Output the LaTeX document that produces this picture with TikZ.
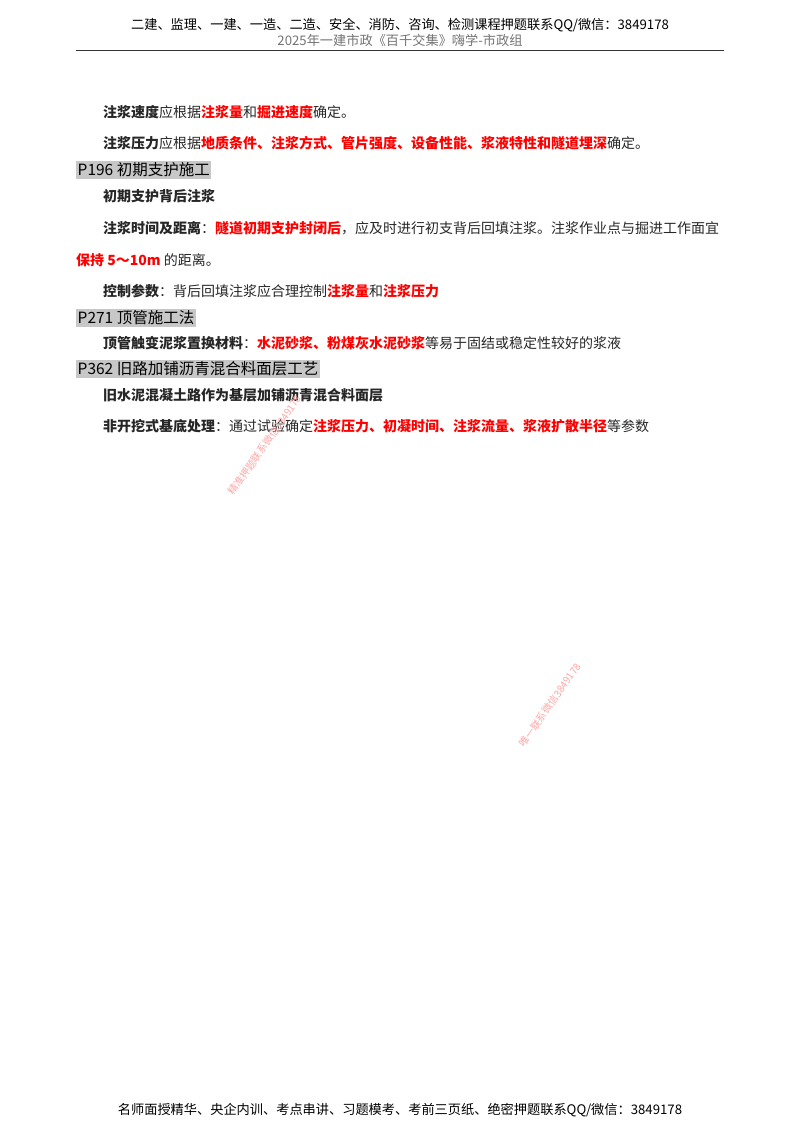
\documentclass[tikz,border=0pt]{standalone}
\usepackage{fontspec}
\setmainfont{Noto Sans CJK SC}
\newfontfamily\cjk{Noto Sans CJK SC}
\newcommand{\hl}[1]{\textcolor{red}{\textbf{#1}}}
\newcommand{\kw}[1]{\textbf{#1}}
\begin{document}
\begin{tikzpicture}[x=1pt,y=-1pt,
  body/.style={anchor=west,inner sep=0pt,font=\fontsize{14}{14}\selectfont,text=black!85},
  head/.style={anchor=west,inner sep=1.5pt,fill=black!22,font=\fontsize{15.5}{16}\selectfont},
  top/.style={inner sep=0pt,font=\fontsize{13.2}{13}\selectfont},
  wmark/.style={inner sep=0pt,text=red!35,font=\fontsize{10}{10}\selectfont,rotate=55}]
  \useasboundingbox (0,0) rectangle (800,1132);

  %% -- header
  \node (h1) [top] at (400,25) {二建、监理、一建、一造、二造、安全、消防、咨询、检测课程押题联系QQ/微信：3849178};
  \node (h2) [top,text=black!55] at (400,40) {2025年一建市政《百千交集》嗨学-市政组};
  \coordinate (r0) at (76,51);
  \coordinate (r1) at (724,51);
  \draw[line width=1pt,black!80] (r0) -- (r1);

  %% -- body
  \node (l1) [body] at (103,112) {\kw{注浆速度}应根据\hl{注浆量}和\hl{掘进速度}确定。};
  \node (l2) [body] at (103,143) {\kw{注浆压力}应根据\hl{地质条件、注浆方式、管片强度、设备性能、浆液特性和隧道埋深}确定。};
  \node (p196) [head] at (76,170) {P196 初期支护施工};
  \node (l3) [body] at (103,196) {\kw{初期支护背后注浆}};
  \node (l4) [body] at (103,228) {\kw{注浆时间及距离}：\hl{隧道初期支护封闭后}，应及时进行初支背后回填注浆。注浆作业点与掘进工作面宜};
  \node (l5) [body] at (76,260) {\hl{保持 5～10m} 的距离。};
  \node (l6) [body] at (103,291) {\kw{控制参数}：背后回填注浆应合理控制\hl{注浆量}和\hl{注浆压力}};
  \node (p271) [head] at (76,318) {P271 顶管施工法};
  \node (l7) [body] at (103,343) {\kw{顶管触变泥浆置换材料}：\hl{水泥砂浆、粉煤灰水泥砂浆}等易于固结或稳定性较好的浆液};
  \node (p362) [head] at (76,369) {P362 旧路加铺沥青混合料面层工艺};
  \node (l8) [body] at (103,395) {\kw{旧水泥混凝土路作为基层加铺沥青混合料面层}};
  \node (l9) [body] at (103,426) {\kw{非开挖式基底处理}：通过试验确定\hl{注浆压力、初凝时间、注浆流量、浆液扩散半径}等参数};

  %% -- watermarks
  \node (w1) [wmark] at (265,445) {精准押题联系微信3849178};
  \node (w2) [wmark] at (550,705) {唯一联系微信3849178};

  %% -- footer
  \node (f1) [top] at (400,1110) {名师面授精华、央企内训、考点串讲、习题模考、考前三页纸、绝密押题联系QQ/微信：3849178};
\end{tikzpicture}
\end{document}
